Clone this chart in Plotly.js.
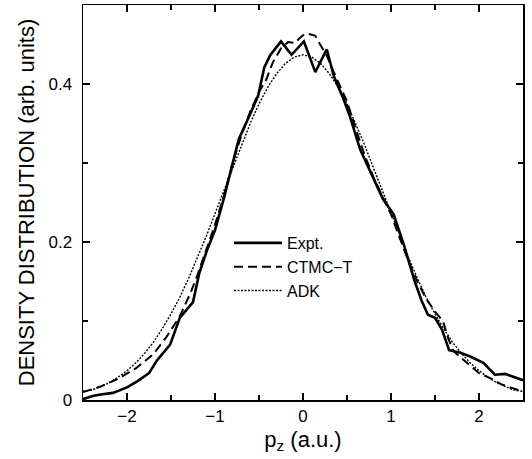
<!DOCTYPE html>
<html>
<head>
<meta charset="utf-8">
<script src="https://cdn.plot.ly/plotly-3.0.1.min.js"></script>
<style>html,body{margin:0;padding:0;background:#fff;}#chart{width:532px;height:459px;}</style>
</head>
<body>
<div id="chart"></div>
<script>
// Expt. (solid)
const exptX = [-2.5,-2.39,-2.3,-2.16,-2.0,-1.88,-1.75,-1.66,-1.51,-1.4,-1.25,-1.18,-1.09,-1.0,-0.9,-0.79,-0.73,-0.6,-0.51,-0.44,-0.375,-0.25,-0.13,0.01,0.14,0.27,0.35,0.46,0.53,0.65,0.78,0.91,1.03,1.15,1.27,1.35,1.42,1.5,1.58,1.66,1.78,1.9,2.05,2.18,2.3,2.43,2.5];
const exptY = [0.001,0.005,0.007,0.009,0.016,0.024,0.034,0.05,0.07,0.104,0.124,0.16,0.19,0.215,0.255,0.305,0.33,0.362,0.385,0.421,0.436,0.454,0.437,0.454,0.415,0.444,0.41,0.381,0.36,0.317,0.285,0.254,0.235,0.195,0.15,0.125,0.108,0.104,0.089,0.063,0.06,0.055,0.047,0.032,0.033,0.028,0.025];
// CTMC-T (dashed)
const ctmcX = [-2.5,-2.3,-2.1,-1.9,-1.7,-1.55,-1.4,-1.28,-1.2,-1.1,-1.0,-0.9,-0.8,-0.7,-0.6,-0.5,-0.42,-0.34,-0.25,-0.17,-0.09,-0.03,0.02,0.08,0.14,0.19,0.27,0.35,0.42,0.5,0.6,0.7,0.8,0.9,1.0,1.1,1.2,1.3,1.4,1.5,1.59,1.65,1.71,1.8,1.9,2.0,2.12,2.25,2.38,2.5];
const ctmcY = [0.01,0.017,0.027,0.04,0.058,0.08,0.106,0.135,0.158,0.19,0.222,0.258,0.3,0.335,0.365,0.39,0.405,0.428,0.445,0.453,0.452,0.459,0.4635,0.463,0.461,0.451,0.436,0.415,0.398,0.378,0.343,0.31,0.282,0.258,0.235,0.205,0.175,0.15,0.128,0.112,0.1,0.078,0.062,0.053,0.043,0.034,0.028,0.02,0.015,0.0106];
// ADK (dotted)
const adkX = [-2.5,-2.4,-2.3,-2.2,-2.1,-2.0,-1.9,-1.8,-1.7,-1.6,-1.5,-1.4,-1.3,-1.2,-1.1,-1.0,-0.9,-0.8,-0.7,-0.6,-0.5,-0.4,-0.3,-0.2,-0.1,0.0,0.1,0.2,0.3,0.4,0.5,0.6,0.7,0.8,0.9,1.0,1.1,1.2,1.3,1.4,1.5,1.6,1.7,1.8,1.9,2.0,2.1,2.2,2.3,2.4,2.5];
const adkY = [0.011,0.0125,0.017,0.022,0.029,0.037,0.047,0.059,0.073,0.09,0.109,0.13,0.154,0.18,0.207,0.236,0.265,0.294,0.323,0.35,0.375,0.396,0.413,0.426,0.434,0.437,0.434,0.426,0.413,0.396,0.375,0.35,0.323,0.294,0.265,0.236,0.207,0.18,0.154,0.13,0.109,0.09,0.073,0.059,0.047,0.037,0.029,0.022,0.017,0.0125,0.011];

const names = ['Expt.', 'CTMC\u2212T', 'ADK'];
const xTickVals = [-2, -1, 0, 1, 2];
const xTickText = ['\u22122', '\u22121', '0', '1', '2'];
const yTickVals = [0, 0.2, 0.4];
const yTickText = ['0', '0.2', '0.4'];

const FONT = 'Liberation Sans, Arial, Helvetica, sans-serif';

const traces = [
  {x: exptX, y: exptY, name: names[0], mode: 'lines', line: {color: '#000', width: 2.6, dash: 'solid'}},
  {x: ctmcX, y: ctmcY, name: names[1], mode: 'lines', line: {color: '#000', width: 2, dash: '9px,5px'}},
  {x: adkX, y: adkY, name: names[2], mode: 'lines', line: {color: '#000', width: 1.4, dash: '2px,1.5px'}}
];

const axisCommon = {
  showgrid: false, zeroline: false, showline: true, linecolor: '#000', linewidth: 1.5,
  mirror: 'allticks', ticks: 'inside', ticklen: 7, tickwidth: 1.2, tickcolor: '#000',
  tickfont: {family: FONT, size: 17, color: '#000'},
  minor: {ticks: 'inside', ticklen: 5, tickwidth: 1.2, tickcolor: '#000', showgrid: false}
};

const layout = {
  width: 532, height: 459,
  margin: {l: 83, r: 9, t: 5, b: 59},
  paper_bgcolor: '#fff', plot_bgcolor: '#fff',
  font: {family: FONT, color: '#000'},
  showlegend: true,
  legend: {x: (229 - 83) / 440, y: (400 - 226) / 395, xanchor: 'left', yanchor: 'top',
           bgcolor: 'rgba(0,0,0,0)', borderwidth: 0, itemwidth: 48, tracegroupgap: 0,
           font: {family: FONT, size: 16, color: '#000'}},
  xaxis: Object.assign({}, axisCommon, {
    range: [-2.5, 2.5], tickmode: 'array', tickvals: xTickVals, ticktext: xTickText,
    minor: Object.assign({}, axisCommon.minor, {dtick: 0.5, tick0: 0}),
    title: {text: 'p<sub>z</sub> (a.u.)', font: {family: FONT, size: 22, color: '#000'}, standoff: 6},
    automargin: false
  }),
  yaxis: Object.assign({}, axisCommon, {
    range: [0, 0.5], tickmode: 'array', tickvals: yTickVals, ticktext: yTickText,
    minor: Object.assign({}, axisCommon.minor, {dtick: 0.1, tick0: 0}),
    ticklabelstandoff: 6,
    title: {text: 'DENSITY DISTRIBUTION (arb. units)', font: {family: FONT, size: 22, color: '#000'}, standoff: 8},
    automargin: false
  })
};

Plotly.newPlot('chart', traces, layout, {staticPlot: true, displayModeBar: false});
</script>
</body>
</html>
